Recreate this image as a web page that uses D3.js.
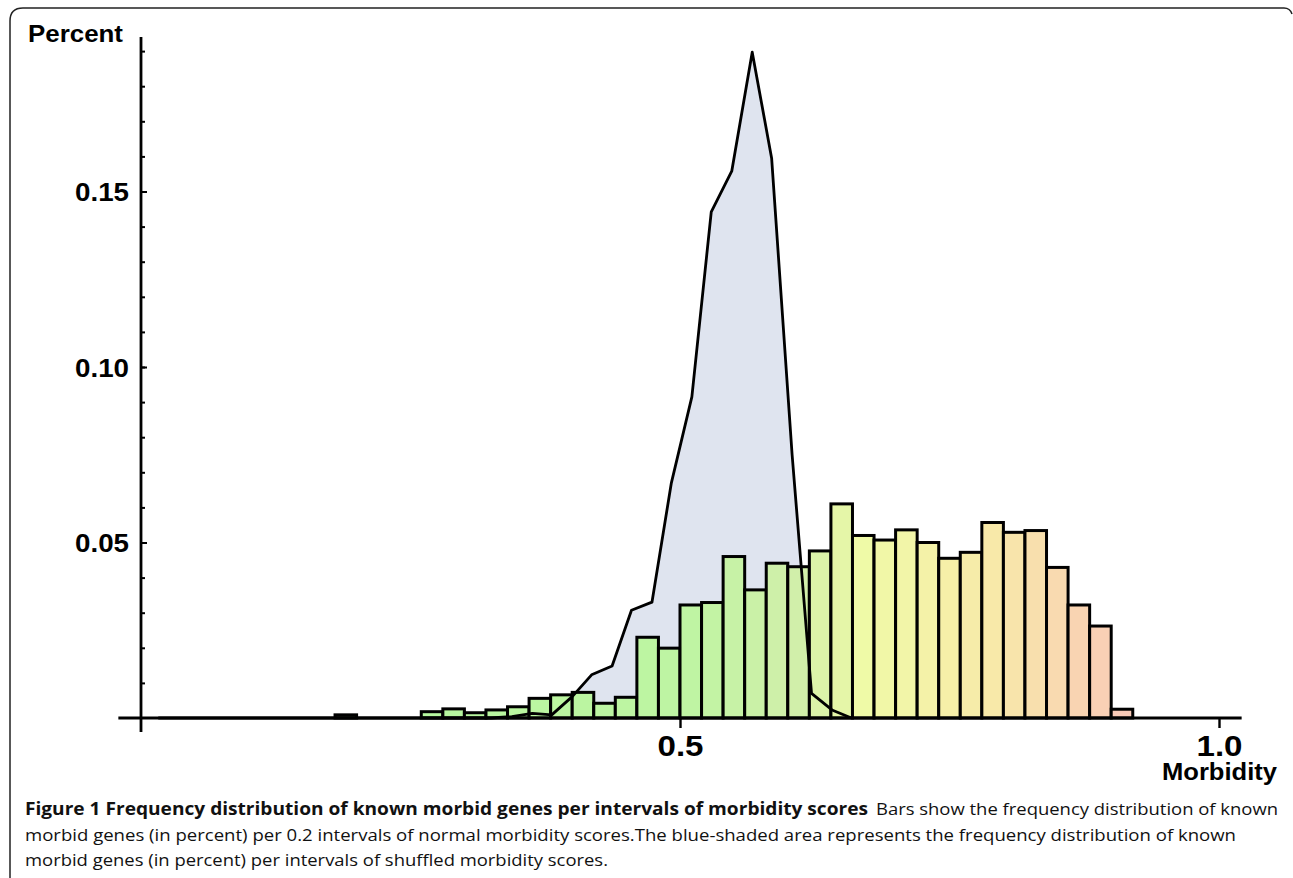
<!DOCTYPE html>
<html>
<head>
<meta charset="utf-8">
<title>Figure 1</title>
<style>
  body { margin: 0; background: #fff; }
  .lbl { font-family: "Liberation Sans", Arial, sans-serif; font-weight: bold; fill: #000; }
  .cap { font-family: "Open Sans", sans-serif; font-size: 17px; fill: #111; }
</style>
</head>
<body>
<script src="https://d3js.org/d3.v7.min.js"></script>
<script>

// normal morbidity scores: start of each 0.02 wide bin and share of known morbid genes
var binStarts = [0.18, 0.26, 0.28, 0.30, 0.32, 0.34, 0.36, 0.38, 0.40, 0.42, 0.44, 0.46, 0.48,
                 0.50, 0.52, 0.54, 0.56, 0.58, 0.60, 0.62, 0.64, 0.66, 0.68, 0.70, 0.72, 0.74,
                 0.76, 0.78, 0.80, 0.82, 0.84, 0.86, 0.88, 0.90];
var binValues = [0.0009, 0.0018, 0.0026, 0.0015, 0.0023, 0.0032, 0.0056, 0.0066, 0.0073, 0.0042, 0.0059, 0.0230, 0.0199,
                 0.0322, 0.0329, 0.0460, 0.0365, 0.0441, 0.0431, 0.0476, 0.0610, 0.0520, 0.0507, 0.0536, 0.0500, 0.0455,
                 0.0472, 0.0557, 0.0529, 0.0534, 0.0429, 0.0322, 0.0262, 0.0025];
var binWidth = 0.02;

// shuffled morbidity scores (blue shaded area)
var shuffledX = [0.016, 0.325, 0.344, 0.363, 0.381, 0.400, 0.418, 0.437, 0.455, 0.474,
                 0.492, 0.511, 0.529, 0.548, 0.567, 0.585, 0.604, 0.622, 0.641, 0.659];
var shuffledY = [0, 0, 0.0004, 0.0013, 0.0009, 0.0061, 0.0123, 0.0148, 0.0307, 0.0330,
                 0.0670, 0.0915, 0.1442, 0.1558, 0.1897, 0.1595, 0.0750, 0.0070, 0.0023, 0];

var yTicks = [0.05, 0.10, 0.15];
var xTicks = [0.5, 1.0];

var captionTitle = "Figure 1 Frequency distribution of known morbid genes per intervals of morbidity scores";
var captionLines = [
  "Bars show the frequency distribution of known",
  "morbid genes (in percent) per 0.2 intervals of normal morbidity scores.The blue-shaded area represents the frequency distribution of known",
  "morbid genes (in percent) per intervals of shuffled morbidity scores."
];

var W = 1293, H = 878;

var svg = d3.select("body").append("svg")
    .attr("width", W)
    .attr("height", H);

// frame of the figure box (top + left edges with rounded corners)
svg.append("path")
    .attr("d", "M10,878 V21 Q10,8 23,8 H1284 Q1290,8 1292,14")
    .style("fill", "none")
    .style("stroke", "#222")
    .style("stroke-width", 1.5);

var x = d3.scaleLinear().domain([0, 1]).range([141, 1219]);
var y = d3.scaleLinear().domain([0, 0.15]).range([718, 191.5]);

// bar colours go green -> yellow -> salmon along the score
var colour = d3.scaleLinear()
    .domain([0.26, 0.5, 0.6, 0.66, 0.78, 0.9])
    .range(["#b2f79a", "#bdf49e", "#d0efa5", "#eefaa2", "#f8e8a4", "#f9c7b3"])
    .clamp(true);

var pts = shuffledX.map(function(d, i) { return [d, shuffledY[i]]; });

var area = d3.area()
    .x(function(d) { return x(d[0]); })
    .y0(y(0))
    .y1(function(d) { return y(d[1]); });

var line = d3.line()
    .x(function(d) { return x(d[0]); })
    .y(function(d) { return y(d[1]); });

svg.append("path")
    .datum(pts)
    .attr("d", area)
    .style("fill", "#dfe4ef");

var bars = binStarts.map(function(d, i) { return {x0: d, v: binValues[i]}; });

svg.append("g").selectAll("rect")
    .data(bars)
    .enter().append("rect")
    .attr("x", function(d) { return x(d.x0); })
    .attr("width", function(d) { return x(d.x0 + binWidth) - x(d.x0); })
    .attr("y", function(d) { return y(d.v); })
    .attr("height", function(d) { return y(0) - y(d.v); })
    .style("fill", function(d) { return colour(d.x0); })
    .style("fill-opacity", 0.95)
    .style("stroke", "#000")
    .style("stroke-width", 3);

svg.append("path")
    .datum(pts)
    .attr("d", line)
    .style("fill", "none")
    .style("stroke", "#000")
    .style("stroke-width", 2.8)
    .style("stroke-linejoin", "round");

// y axis: major ticks with labels, minor ticks every 0.01, all pointing inward
var yAxis = svg.append("g")
    .attr("transform", "translate(" + x(0) + ",0)")
    .call(d3.axisLeft(y).tickValues(yTicks).tickSize(-6).tickPadding(12).tickFormat(d3.format(".2f")));
yAxis.select(".domain").remove();
yAxis.selectAll(".tick line").style("stroke", "#000").style("stroke-width", 2);
yAxis.selectAll(".tick text")
    .attr("class", "lbl")
    .style("font-size", "26px")
    .attr("textLength", 54)
    .attr("lengthAdjust", "spacingAndGlyphs")
    .attr("dy", "0.36em");

var minor = svg.append("g")
    .attr("transform", "translate(" + x(0) + ",0)")
    .call(d3.axisLeft(y).tickValues(d3.range(1, 20).map(function(k) { return k / 100; }))
        .tickSize(-4).tickFormat(""));
minor.select(".domain").remove();
minor.selectAll(".tick line").style("stroke", "#000").style("stroke-width", 2);

svg.append("line")
    .attr("x1", x(0)).attr("x2", x(0))
    .attr("y1", y(0.194)).attr("y2", y(-0.004))
    .style("stroke", "#000")
    .style("stroke-width", 2.8);

// x axis
var xAxis = svg.append("g")
    .attr("transform", "translate(0," + y(0) + ")")
    .call(d3.axisBottom(x).tickValues(xTicks).tickSize(10).tickFormat(d3.format(".1f")));
xAxis.select(".domain").remove();
xAxis.selectAll(".tick line").style("stroke", "#000").style("stroke-width", 2.4);
xAxis.selectAll(".tick text")
    .attr("class", "lbl")
    .style("font-size", "29px")
    .attr("textLength", 46)
    .attr("lengthAdjust", "spacingAndGlyphs")
    .attr("y", 38)
    .attr("dy", 0);

svg.append("line")
    .attr("x1", x(-0.021)).attr("x2", x(1.021))
    .attr("y1", y(0)).attr("y2", y(0))
    .style("stroke", "#000")
    .style("stroke-width", 2.8);

// axis titles
svg.append("text")
    .attr("class", "lbl")
    .attr("x", 28).attr("y", 42)
    .attr("textLength", 95)
    .attr("lengthAdjust", "spacingAndGlyphs")
    .style("font-size", "24px")
    .text("Percent");

svg.append("text")
    .attr("class", "lbl")
    .attr("x", 1162).attr("y", 780)
    .attr("textLength", 115)
    .attr("lengthAdjust", "spacingAndGlyphs")
    .style("font-size", "23px")
    .text("Morbidity");

// caption
svg.append("text")
    .attr("class", "cap")
    .attr("x", 25).attr("y", 815)
    .attr("textLength", 843)
    .attr("lengthAdjust", "spacingAndGlyphs")
    .style("font-weight", "bold")
    .text(captionTitle);

var capX = [876, 25, 25], capY = [815, 841, 866], capLen = [402, 1211, 583];
captionLines.forEach(function(t, i) {
    svg.append("text")
        .attr("class", "cap")
        .attr("x", capX[i]).attr("y", capY[i])
        .attr("textLength", capLen[i])
        .attr("lengthAdjust", "spacingAndGlyphs")
        .text(t);
});

</script>
</body>
</html>
